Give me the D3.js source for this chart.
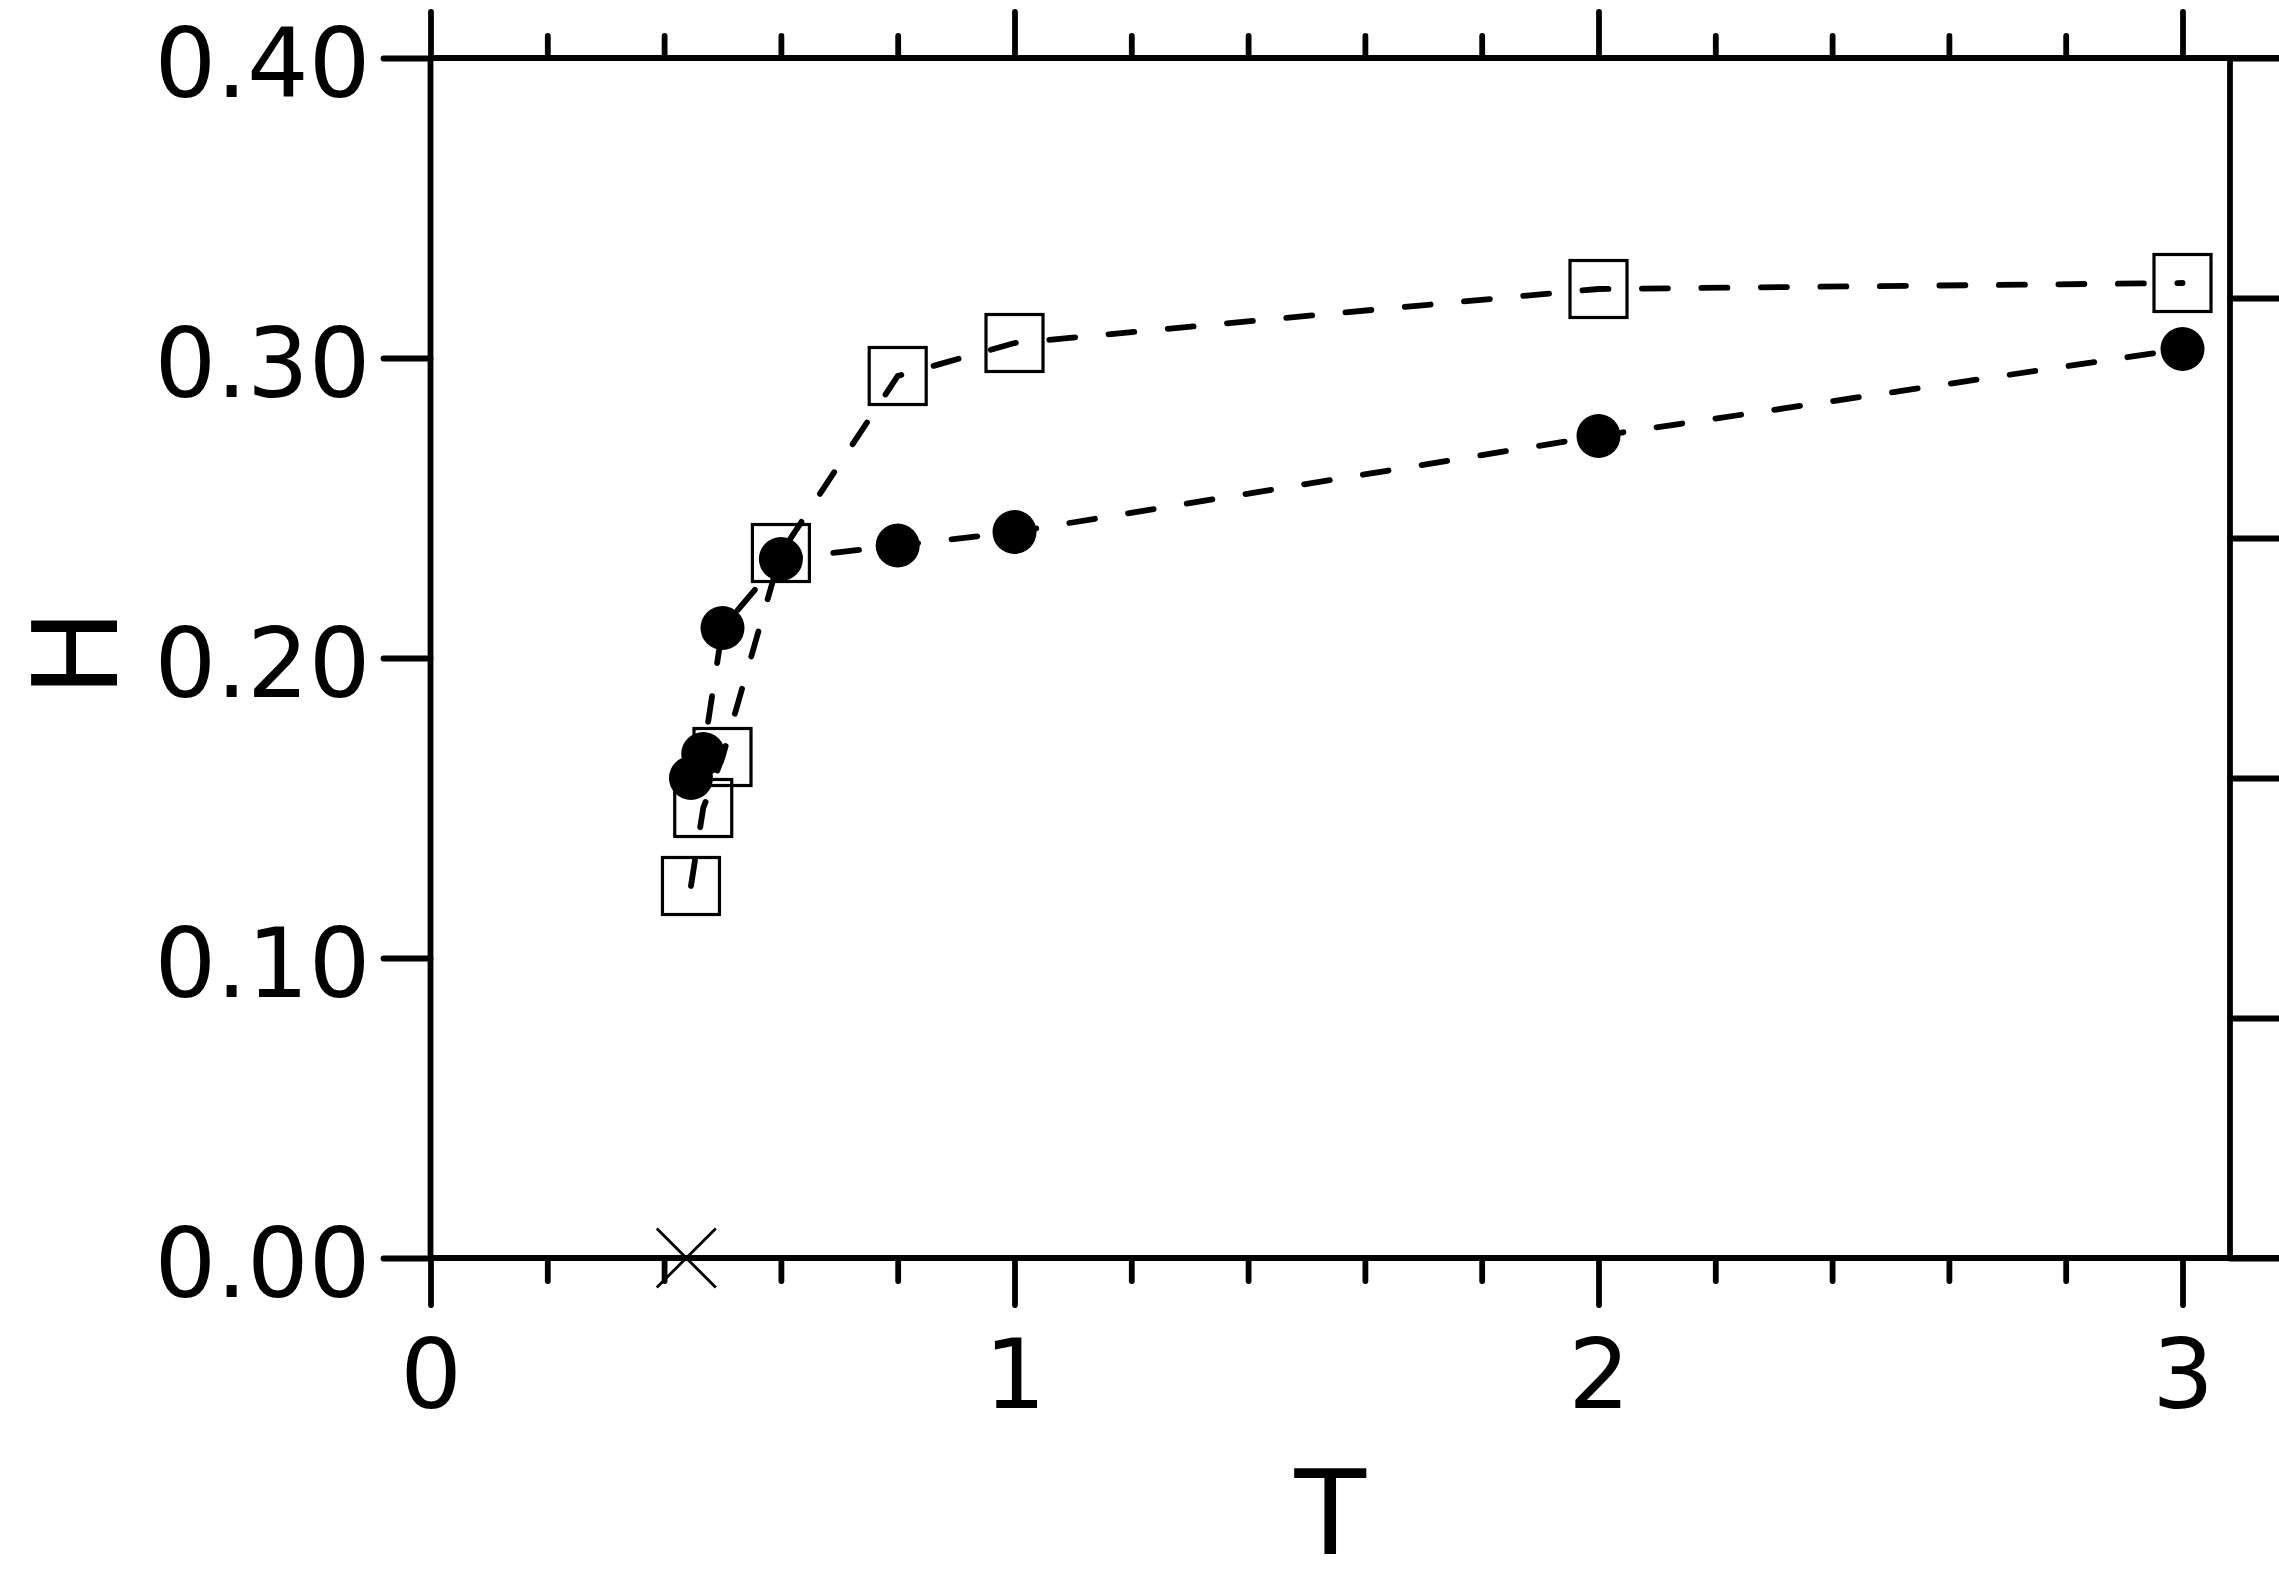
<!DOCTYPE html>
<html>
<head>
<meta charset="utf-8">
<script src="https://cdn.jsdelivr.net/npm/d3@7"></script>
<style>
  html, body { margin: 0; padding: 0; background: #fff; }
  svg { display: block; }
  text { font-family: "DejaVu Sans", Verdana, sans-serif; fill: #000; }
</style>
</head>
<body>
<script>
// ---- data ----
const temps = [0.446, 0.467, 0.5, 0.6, 0.8, 1, 2, 3];
const circleH = [0.160, 0.168, 0.210, 0.233, 0.2375, 0.242, 0.274, 0.303];
const squareH = [0.124, 0.150, 0.167, 0.235, 0.294, 0.305, 0.323, 0.325];
const crossPoint = [0.438, 0.0];
const xMajorTicks = [0, 1, 2, 3];
const xMinorTicks = [0.2, 0.4, 0.6, 0.8, 1.2, 1.4, 1.6, 1.8, 2.2, 2.4, 2.6, 2.8];
const yTicks = [0, 0.1, 0.2, 0.3, 0.4];
const rightTicks = [0, 1, 2, 3, 4, 5];
const xLabel = "T";
const yLabel = "H";

// ---- layout ----
const W = 2279, Hh = 1582;
const plotLeft = 430.5, plotTop = 58, plotBottom = 1258, xAt3 = 2182.5, frameRight = 2230;
const lw = 5.8;
const font = 97, labelFont = 117;

const svg = d3.select("body").append("svg").attr("width", W).attr("height", Hh);
svg.append("rect").attr("width", W).attr("height", Hh).attr("fill", "#fff");

const x = d3.scaleLinear().domain([0, 3]).range([plotLeft, xAt3]);
const y = d3.scaleLinear().domain([0, 0.4]).range([plotBottom, plotTop]);
const yR = d3.scaleLinear().domain([0, 5]).range([plotBottom, plotTop]);

function styleAxis(g, showText) {
  g.select(".domain").remove();
  g.selectAll(".tick line").attr("stroke", "#000").attr("stroke-width", lw).attr("stroke-linecap", "round");
  g.attr("font-family", null).attr("font-size", null);
  g.selectAll("text").style("font-size", font + "px").attr("fill", "#000");
  if (!showText) g.selectAll("text").remove();
}

// bottom axis
svg.append("g").attr("transform", `translate(0,${plotBottom})`)
  .call(d3.axisBottom(x).tickValues(xMinorTicks).tickSize(23).tickFormat(""))
  .call(g => styleAxis(g, false));
svg.append("g").attr("transform", `translate(0,${plotBottom})`)
  .call(d3.axisBottom(x).tickValues(xMajorTicks).tickSize(47).tickPadding(34).tickFormat(d3.format("d")))
  .call(g => styleAxis(g, true));

// top axis
svg.append("g").attr("transform", `translate(0,${plotTop})`)
  .call(d3.axisTop(x).tickValues(xMinorTicks).tickSize(22).tickFormat(""))
  .call(g => styleAxis(g, false));
svg.append("g").attr("transform", `translate(0,${plotTop})`)
  .call(d3.axisTop(x).tickValues(xMajorTicks).tickSize(46).tickFormat(""))
  .call(g => styleAxis(g, false));

// left axis
svg.append("g").attr("transform", `translate(${plotLeft},0)`)
  .call(d3.axisLeft(y).tickValues(yTicks).tickSize(47).tickPadding(13).tickFormat(d3.format(".2f")))
  .call(g => styleAxis(g, true))
  .call(g => g.selectAll("text").attr("dy", "0.4em"));

// right axis (unlabelled)
svg.append("g").attr("transform", `translate(${frameRight},0)`)
  .call(d3.axisRight(yR).tickValues(rightTicks).tickSize(W - frameRight).tickFormat(""))
  .call(g => styleAxis(g, false));

// spines
const spine = svg.append("g").attr("stroke", "#000").attr("stroke-width", lw).attr("stroke-linecap", "round");
spine.append("line").attr("x1", plotLeft).attr("x2", W).attr("y1", plotBottom).attr("y2", plotBottom);
spine.append("line").attr("x1", plotLeft).attr("x2", W).attr("y1", plotTop).attr("y2", plotTop);
spine.append("line").attr("x1", plotLeft).attr("x2", plotLeft).attr("y1", plotTop).attr("y2", plotBottom);
spine.append("line").attr("x1", frameRight).attr("x2", frameRight).attr("y1", plotTop).attr("y2", plotBottom);

// axis labels
svg.append("text").attr("x", (plotLeft + frameRight) / 2).attr("y", 1554)
  .attr("text-anchor", "middle").style("font-size", labelFont + "px").text(xLabel);
svg.append("text").attr("transform", `translate(117,${(plotTop + plotBottom) / 2 - 5}) rotate(-90)`)
  .attr("text-anchor", "middle").style("font-size", labelFont + "px").text(yLabel);

// data
const circData = temps.map((t, i) => [t, circleH[i]]);
const sqData = temps.map((t, i) => [t, squareH[i]]);
const line = d3.line().x(d => x(d[0])).y(d => y(d[1]));

[sqData, circData].forEach(data => {
  svg.append("path").attr("d", line(data))
    .attr("fill", "none").attr("stroke", "#000").attr("stroke-width", 5.8)
    .attr("stroke-linecap", "round").attr("stroke-dasharray", "26,33.5");
});

const sq = 57;
svg.append("g").selectAll("rect").data(sqData).join("rect")
  .attr("x", d => x(d[0]) - sq / 2).attr("y", d => y(d[1]) - sq / 2)
  .attr("width", sq).attr("height", sq)
  .attr("fill", "none").attr("stroke", "#000").attr("stroke-width", 3.2);

svg.append("g").selectAll("circle").data(circData).join("circle")
  .attr("cx", d => x(d[0])).attr("cy", d => y(d[1])).attr("r", 22).attr("fill", "#000");

const cs = 29.5;
const cxp = x(crossPoint[0]), cyp = y(crossPoint[1]);
svg.append("path")
  .attr("d", `M${cxp - cs},${cyp - cs}L${cxp + cs},${cyp + cs}M${cxp - cs},${cyp + cs}L${cxp + cs},${cyp - cs}`)
  .attr("stroke", "#000").attr("stroke-width", 2.8).attr("fill", "none");
</script>
</body>
</html>
